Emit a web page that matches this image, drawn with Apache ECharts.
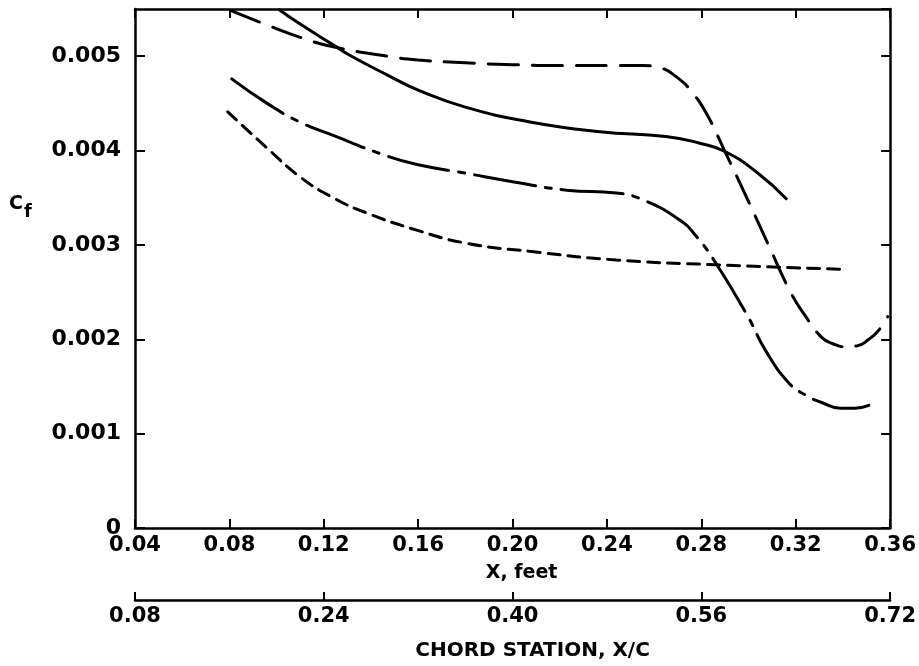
<!DOCTYPE html>
<html>
<head>
<meta charset="utf-8">
<script src="https://cdn.jsdelivr.net/npm/echarts@6/dist/echarts.min.js"></script>
<style>
html,body{margin:0;padding:0;background:#fff;}
#chart{width:919px;height:666px;}
</style>
</head>
<body>
<div id="chart"></div>
<script>
// X, feet values and Cf values for each curve
var xLongDash = [0.081, 0.095, 0.110, 0.124, 0.147, 0.160, 0.180, 0.200, 0.220, 0.240, 0.255, 0.262, 0.270, 0.276, 0.282, 0.290, 0.300, 0.309, 0.318, 0.324, 0.331, 0.336, 0.341, 0.346, 0.351, 0.355, 0.359];
var yLongDash = [0.00548, 0.00534, 0.00520, 0.00510, 0.00500, 0.00496, 0.00493, 0.00491, 0.00490, 0.00490, 0.00490, 0.00488, 0.00477, 0.00462, 0.00440, 0.00399, 0.00346, 0.00297, 0.00249, 0.00225, 0.00202, 0.00195, 0.00192, 0.00193, 0.00200, 0.00209, 0.00224];

var xSolid = [0.1013, 0.110, 0.124, 0.131, 0.147, 0.160, 0.180, 0.208, 0.237, 0.265, 0.279, 0.290, 0.304, 0.316];
var ySolid = [0.00549, 0.00534, 0.00512, 0.00501, 0.00480, 0.00464, 0.00446, 0.00430, 0.00420, 0.00415, 0.00408, 0.00399, 0.00376, 0.00349];

var xDashDot = [0.081, 0.096, 0.110, 0.124, 0.147, 0.160, 0.180, 0.200, 0.223, 0.244, 0.255, 0.2705, 0.2776, 0.2866, 0.300, 0.307, 0.317, 0.324, 0.331, 0.339, 0.345, 0.351];
var yDashDot = [0.00476, 0.00450, 0.00430, 0.00416, 0.00394, 0.00385, 0.00376, 0.00367, 0.00358, 0.00355, 0.00348, 0.00327, 0.00310, 0.00279, 0.00223, 0.00189, 0.00154, 0.00141, 0.00133, 0.00127, 0.00127, 0.00130];

var xShortDash = [0.0793, 0.0958, 0.110, 0.124, 0.138, 0.159, 0.180, 0.208, 0.244, 0.286, 0.3415];
var yShortDash = [0.00441, 0.00403, 0.00372, 0.00350, 0.00334, 0.00316, 0.00302, 0.00293, 0.00284, 0.00279, 0.00274];

// axis settings
var xFeetMin = 0.04, xFeetMax = 0.36, xFeetStep = 0.04;
var chordMin = 0.08, chordMax = 0.72, chordStep = 0.16;
var cfMin = 0, cfMax = 0.0055, cfStep = 0.001;

var FONT = 'DejaVu Sans';
function pairs(xs, ys){ return xs.map(function(x,i){ return [x, ys[i]]; }); }

var chart = echarts.init(document.getElementById('chart'));
var lineBase = {color:'#000', width:2.5};
var tickBase = {color:'#000', width:2};

function curve(name, xs, ys, dash){
  return {
    name: name, type:'line', xAxisIndex:0, yAxisIndex:0,
    data: pairs(xs, ys), showSymbol:false, symbol:'none',
    smooth:0.5,
    lineStyle:{color:'#000', width:3, type:dash, cap:'round'},
    silent:true, animation:false
  };
}

chart.setOption({
  animation:false,
  backgroundColor:'#fff',
  grid:{left:135, right:27, top:9, bottom:138, containLabel:false},
  xAxis:[
    {type:'value', position:'bottom', min:xFeetMin, max:xFeetMax, interval:xFeetStep,
     axisLine:{show:true, onZero:false, lineStyle:lineBase},
     axisTick:{show:true, inside:true, length:9, lineStyle:tickBase},
     axisLabel:{show:true, margin:7, color:'#000', fontSize:21, fontWeight:'bold', fontFamily:FONT,
       formatter:function(v){return v.toFixed(2);}},
     splitLine:{show:false},
     name:'X, feet', nameLocation:'middle', nameGap:36,
     nameTextStyle:{color:'#000', fontSize:19, fontWeight:'bold', fontFamily:FONT, padding:[0,0,0,18]}},
    {type:'value', position:'bottom', offset:72, min:chordMin, max:chordMax, interval:chordStep,
     axisLine:{show:true, onZero:false, lineStyle:lineBase},
     axisTick:{show:true, inside:true, length:8, lineStyle:tickBase},
     axisLabel:{show:true, margin:6, color:'#000', fontSize:21, fontWeight:'bold', fontFamily:FONT,
       formatter:function(v){return v.toFixed(2);}},
     splitLine:{show:false},
     name:'CHORD STATION, X/C', nameLocation:'middle', nameGap:41,
     nameTextStyle:{color:'#000', fontSize:20, fontWeight:'bold', fontFamily:FONT, padding:[0,0,0,40]}},
    {type:'value', position:'top', min:xFeetMin, max:xFeetMax, interval:xFeetStep,
     axisLine:{show:true, onZero:false, lineStyle:lineBase},
     axisTick:{show:true, inside:true, length:9, lineStyle:tickBase},
     axisLabel:{show:false}, splitLine:{show:false}}
  ],
  yAxis:[
    {type:'value', position:'left', min:cfMin, max:cfMax, interval:cfStep,
     axisLine:{show:true, onZero:false, lineStyle:lineBase},
     axisTick:{show:true, inside:true, length:10, lineStyle:tickBase},
     axisLabel:{show:true, margin:14, color:'#000', fontSize:22, fontWeight:'bold', fontFamily:FONT,
       showMaxLabel:false,
       formatter:function(v){
         var k = v/cfStep;
         if (Math.abs(k-Math.round(k))>1e-6) return '';
         return v===0 ? '0' : v.toFixed(3);
       }},
     splitLine:{show:false}},
    {type:'value', position:'right', min:cfMin, max:cfMax, interval:cfStep,
     axisLine:{show:true, onZero:false, lineStyle:lineBase},
     axisTick:{show:true, inside:true, length:9, lineStyle:tickBase},
     axisLabel:{show:false}, splitLine:{show:false}}
  ],
  graphic:[
    {type:'text', left:9, top:195, style:{text:'C', fill:'#000', font:'bold 19px "DejaVu Sans"'}},
    {type:'text', left:24, top:203, style:{text:'f', fill:'#000', font:'bold 18px "DejaVu Sans"'}}
  ],
  series:[
    curve('long dash', xLongDash, yLongDash, [30,14]),
    curve('solid', xSolid, ySolid, 'solid'),
    curve('dash dot', xDashDot, yDashDot, [62,10,6,10]),
    curve('short dash', xShortDash, yShortDash, [12,8])
  ]
});
</script>
</body>
</html>
